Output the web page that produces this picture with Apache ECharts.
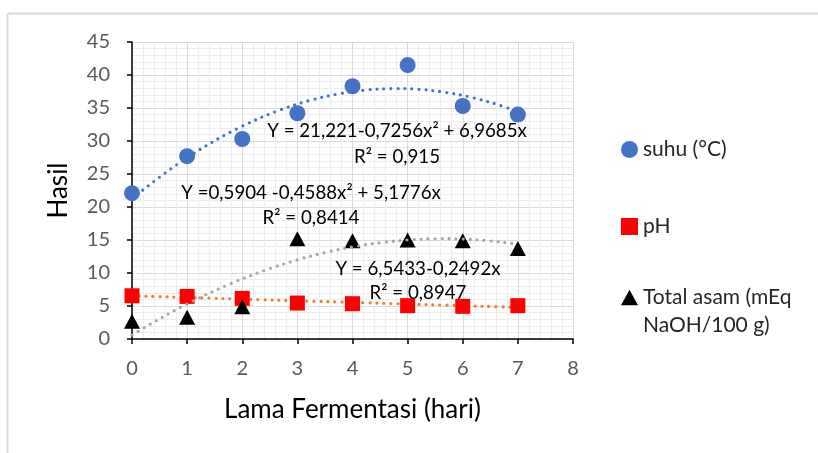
<!DOCTYPE html>
<html><head><meta charset="utf-8">
<script src="https://cdn.jsdelivr.net/npm/echarts@6/dist/echarts.min.js"></script>
<style>html,body{margin:0;padding:0;background:#fff}#c{width:818px;height:453px}</style>
</head><body><div id="c"></div>
<script>
var days = [0, 1, 2, 3, 4, 5, 6, 7];
var suhu = [22.1, 27.7, 30.3, 34.2, 38.3, 41.5, 35.3, 34.0];
var ph = [6.55, 6.45, 6.15, 5.45, 5.35, 5.05, 4.95, 5.05];
var totalAsam = [2.7, 3.3, 4.9, 15.2, 14.9, 15.0, 14.9, 13.7];
// trendline coefficients shown on the chart: c0 + c2*x^2 + c1*x
var suhuTrend = {c0: 21.221, c1: 6.9685, c2: -0.7256};
var asamTrend = {c0: 0.5904, c1: 5.1776, c2: -0.4588};
var phTrend = {c0: 6.5433, c1: -0.2492, c2: 0};
var yTicks = [0, 5, 10, 15, 20, 25, 30, 35, 40, 45];
var xTicks = [0, 1, 2, 3, 4, 5, 6, 7, 8];
var names = ['suhu (°C)', 'pH', 'Total asam (mEq'];
var legendSecondLine = 'NaOH/100 g)';
var eqTexts = [
  'Y = 21,221-0,7256x² + 6,9685x', 'R² = 0,915',
  'Y =0,5904 -0,4588x² + 5,1776x', 'R² = 0,8414',
  'Y = 6,5433-0,2492x', 'R² = 0,8947'
];

function trend(c) {
  var out = [];
  for (var i = 0; i <= 70; i++) {
    var x = i / 10;
    out.push([x, c.c0 + c.c1 * x + c.c2 * x * x]);
  }
  return out;
}
function pairs(v) { return days.map(function (d, i) { return [d, v[i]]; }); }

var FONT = 'Lato, "Open Sans", sans-serif';
var chart = echarts.init(document.getElementById('c'));
var dotStyle = function (col) {
  return {color: col, width: 3.2, type: [0, 7], cap: 'round'};
};
var triPath = 'path://M50,0 L100,90 L0,90 Z';
var legendBase = {
  orient: 'vertical', left: 621, padding: 0, itemWidth: 17, itemHeight: 17, itemGap: 5,
  textStyle: {fontFamily: FONT, fontSize: 21, color: '#262626'},
  selectedMode: false
};
chart.setOption({
  animation: false,
  grid: {left: 132, right: 245, top: 42, bottom: 114},
  xAxis: {
    type: 'value', min: 0, max: 8, interval: 1,
    name: 'Lama Fermentasi (hari)', nameLocation: 'middle', nameGap: 58,
    nameTextStyle: {fontFamily: FONT, fontSize: 26, color: '#000'},
    axisLine: {show: true, onZero: false, lineStyle: {color: '#000', width: 1.5}},
    axisTick: {show: true, length: 5, lineStyle: {color: '#000', width: 1.5}},
    axisLabel: {fontFamily: FONT, fontSize: 20, color: '#595959', margin: 20,
      formatter: function (v) { return xTicks.indexOf(v) >= 0 ? String(v) : ''; }},
    splitLine: {show: true, lineStyle: {color: '#D9D9D9', width: 1}},
    minorTick: {show: false, splitNumber: 5},
    minorSplitLine: {show: true, lineStyle: {color: '#EDEDED', width: 1}}
  },
  yAxis: {
    type: 'value', min: 0, max: 45, interval: 5,
    name: 'Hasil', nameLocation: 'middle', nameGap: 60,
    nameTextStyle: {fontFamily: FONT, fontSize: 26, color: '#000'},
    axisLine: {show: true, lineStyle: {color: '#000', width: 1.5}},
    axisTick: {show: true, length: 5, lineStyle: {color: '#000', width: 1.5}},
    axisLabel: {fontFamily: FONT, fontSize: 20, color: '#595959', margin: 22,
      formatter: function (v) { return yTicks.indexOf(v) >= 0 ? String(v) : ''; }},
    splitLine: {show: true, lineStyle: {color: '#D9D9D9', width: 1}},
    minorTick: {show: false, splitNumber: 5},
    minorSplitLine: {show: true, lineStyle: {color: '#EDEDED', width: 1}}
  },
  legend: [
    Object.assign({}, legendBase, {top: 139, data: [{name: names[0], icon: 'circle'}]}),
    Object.assign({}, legendBase, {top: 216, data: [{name: names[1], icon: 'rect'}]}),
    Object.assign({}, legendBase, {top: 287, data: [{name: names[2], icon: triPath}]})
  ],
  series: [
    {type: 'line', data: trend(suhuTrend), showSymbol: false, smooth: true,
      lineStyle: dotStyle('#4472C4'), z: 2, silent: true},
    {type: 'line', data: trend(phTrend), showSymbol: false, smooth: true,
      lineStyle: dotStyle('#ED7D31'), z: 2, silent: true},
    {name: names[0], type: 'scatter', data: pairs(suhu), symbol: 'circle', symbolSize: 16,
      itemStyle: {color: '#4472C4', opacity: 1}, z: 3},
    {name: names[1], type: 'scatter', data: pairs(ph), symbol: 'rect', symbolSize: 15,
      itemStyle: {color: '#FF0000', opacity: 1}, z: 3},
    {name: names[2], type: 'scatter', data: pairs(totalAsam), symbol: triPath, symbolSize: [16, 15],
      itemStyle: {color: '#000', opacity: 1}, z: 3},
    {type: 'line', data: trend(asamTrend), showSymbol: false, smooth: true,
      lineStyle: dotStyle('#A5A5A5'), z: 4, silent: true}
  ],
  graphic: [
    {type: 'line', shape: {x1: 7.5, y1: 13.5, x2: 818, y2: 13.5}, style: {stroke: '#D9D9D9', lineWidth: 2}},
    {type: 'line', shape: {x1: 7.5, y1: 13.5, x2: 7.5, y2: 453}, style: {stroke: '#D9D9D9', lineWidth: 2}},
    {type: 'text', x: 643, y: 325, z: 10,
      style: {text: legendSecondLine, fontFamily: FONT, fontSize: 21, fill: '#262626',
        textAlign: 'left', textVerticalAlign: 'middle'}}
  ].concat([
    [397, 131], [397, 157], [311, 193], [311, 218], [418, 269], [418, 293]
  ].map(function (p, i) {
    return {type: 'text', x: p[0], y: p[1], z: 10,
      style: {text: eqTexts[i], fontFamily: FONT, fontSize: 18.7, fill: '#000',
        textAlign: 'center', textVerticalAlign: 'middle'}};
  }))
});
</script></body></html>
